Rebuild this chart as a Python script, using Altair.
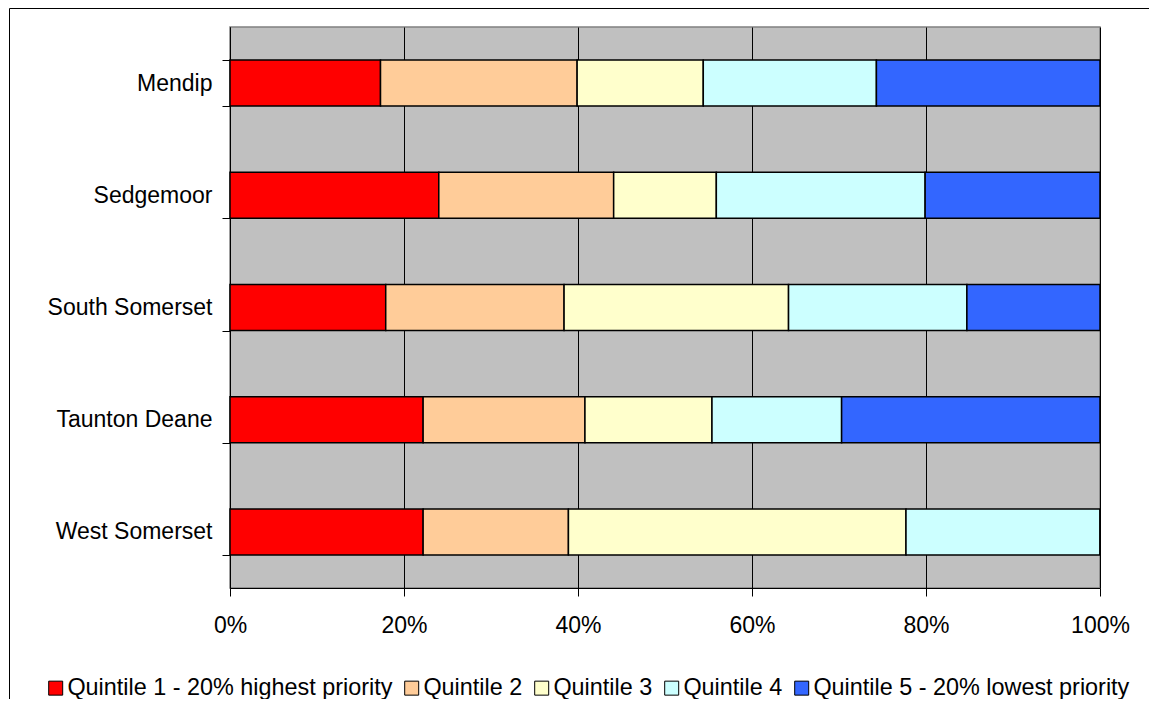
import altair as alt
import pandas as pd

districts = ["Mendip", "Sedgemoor", "South Somerset", "Taunton Deane", "West Somerset"]
quintiles = [
    "Quintile 1 - 20% highest priority",
    "Quintile 2",
    "Quintile 3",
    "Quintile 4",
    "Quintile 5 - 20% lowest priority",
]
colors = ["#FF0000", "#FFCC99", "#FFFFCC", "#CCFFFF", "#3366FF"]

q1 = [17.3, 24.0, 17.9, 22.2, 22.2]
q2 = [22.6, 20.1, 20.5, 18.6, 16.7]
q3 = [14.5, 11.8, 25.8, 14.6, 38.8]
q4 = [19.9, 24.0, 20.5, 14.9, 22.3]
q5 = [25.7, 20.1, 15.3, 29.7, 0.0]

series = [q1, q2, q3, q4, q5]
rows = []
for qi, (qname, vals) in enumerate(zip(quintiles, series)):
    for d, v in zip(districts, vals):
        rows.append({"district": d, "quintile": qname, "order": qi, "share": v / 100.0})
df = pd.DataFrame(rows)

FONT = "Liberation Sans"

bars = alt.Chart(df).mark_bar(stroke="black", strokeWidth=1.5).encode(
    y=alt.Y(
        "district:N",
        sort=districts,
        title=None,
        scale=alt.Scale(paddingInner=0.59, paddingOuter=0.295),
        axis=alt.Axis(
            tickBand="extent",
            tickSize=8,
            tickColor="black",
            domainColor="black",
            labelFont=FONT,
            labelFontSize=23,
            labelColor="black",
            labelPadding=10,
            grid=False,
        ),
    ),
    x=alt.X(
        "share:Q",
        stack="zero",
        title=None,
        scale=alt.Scale(domain=[0, 1], nice=False),
        axis=alt.Axis(
            values=[0, 0.2, 0.4, 0.6, 0.8, 1.0],
            format=".0%",
            tickSize=8,
            tickColor="black",
            domainColor="black",
            gridColor="black",
            gridWidth=1,
            gridOpacity=1,
            labelFont=FONT,
            labelFontSize=23,
            labelColor="black",
            labelPadding=18,
            labelFlush=False,
        ),
    ),
    color=alt.Color(
        "quintile:N",
        sort=quintiles,
        scale=alt.Scale(domain=quintiles, range=colors),
        legend=alt.Legend(
            title=None,
            orient="none",
            legendX=-186,
            legendY=649,
            direction="horizontal",
            columns=5,
            symbolType="square",
            symbolSize=196,
            symbolStrokeColor="black",
            symbolStrokeWidth=1,
            labelFont=FONT,
            labelFontSize=23.4,
            labelColor="black",
            labelOffset=0,
            labelLimit=0,
            columnPadding=7,
            padding=0,
        ),
    ),
    order=alt.Order("order:Q", sort="ascending"),
)

frame = alt.Chart(pd.DataFrame({"a": [0]})).mark_rect(
    fillOpacity=0, stroke="black", strokeWidth=1
).encode(
    x=alt.value(-220.5),
    x2=alt.value(1100),
    y=alt.value(-18.5),
    y2=alt.value(900),
)

chart = (
    alt.layer(frame, bars)
    .properties(
        width=870,
        height=561,
        padding={"left": 222, "top": 19, "right": 49, "bottom": 111},
        autosize=alt.AutoSizeParams(type="none"),
        background="white",
    )
    .configure_view(fill="#C0C0C0", stroke="#808080", strokeWidth=1.5)
)

chart.save("out.html", embed_options={"renderer": "svg", "actions": False})
